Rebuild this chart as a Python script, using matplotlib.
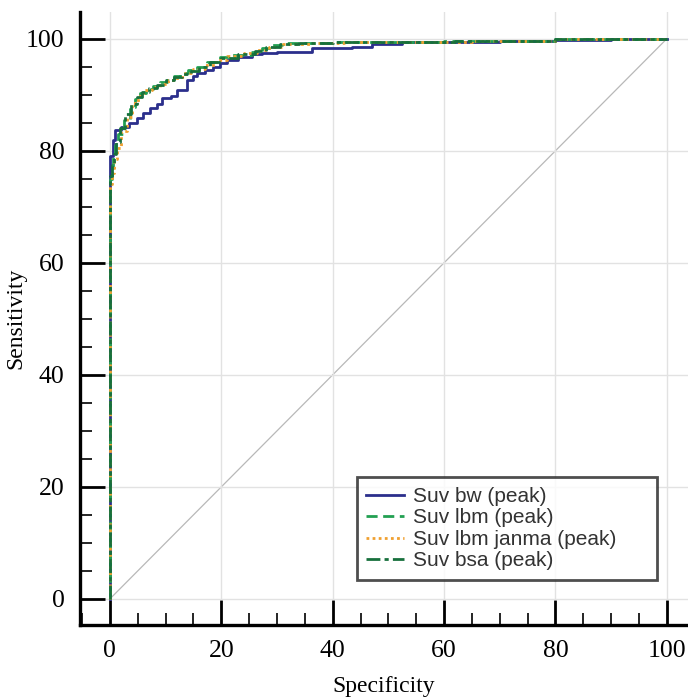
import numpy as np
import matplotlib.pyplot as plt
from matplotlib.ticker import MultipleLocator

# ROC curves (specificity, sensitivity) for the four SUV normalisations
bw_x = [0, 0, 0.5, 1, 2, 3.4, 4.8, 6, 7.2, 8.5, 9.3, 11, 12, 13.8, 15, 15.6, 17, 18.5,
        19.7, 21, 23, 25.5, 27.3, 30, 31.4, 35, 36.3, 40, 43.4, 47, 52.4, 60, 70, 80, 90, 100]
bw_y = [0, 79, 82, 83.8, 84.3, 84.9, 85.8, 86.8, 87.6, 88.4, 89.4, 89.8, 90.9, 92.7, 93.3,
        93.9, 94.5, 95.0, 95.7, 96.2, 96.8, 97.2, 97.4, 97.6, 97.7, 97.7, 98.3, 98.4, 98.6,
        99.0, 99.5, 99.5, 99.6, 99.7, 100, 100]

lbm_x = [0, 0, 0.3, 0.6, 1, 1.5, 2.5, 3.6, 4.5, 5.4, 6.5, 7.8, 9, 10.2, 11.5, 12.6, 14,
         15.6, 17.5, 19.7, 22, 25.5, 27.3, 29, 30.9, 35, 40, 45, 50, 60, 70, 80, 90, 100]
lbm_y = [0, 75, 77, 79, 81, 83, 85.5, 87.9, 89.3, 90.3, 91, 91.5, 92.2, 92.7, 93.4, 93.9,
         94.4, 95, 95.8, 96.8, 97.1, 97.7, 98.3, 98.8, 99.2, 99.3, 99.4, 99.5, 99.5, 99.6,
         99.6, 100, 100, 100]

janma_x = [0, 0, 0.4, 0.8, 1.2, 2, 3, 4, 5, 6, 7.5, 9, 10.5, 12, 13.5, 15, 17, 19, 21,
           24, 26.5, 28.5, 31, 36, 42, 48, 55, 65, 79, 80, 90, 100]
janma_y = [0, 74, 76, 78.5, 80.5, 83.5, 86, 88.5, 89.8, 90.8, 91.3, 92, 92.6, 93.2, 93.8,
           94.6, 95.4, 96.2, 96.9, 97.4, 98, 98.6, 99.1, 99.3, 99.4, 99.5, 99.5, 99.6,
           99.6, 100, 100, 100]

bsa_x = [0, 0, 0.3, 0.7, 1.1, 1.8, 2.8, 3.8, 4.8, 5.8, 7, 8.5, 10, 11.5, 13, 14.5, 16,
         18, 20, 23, 26, 28, 30.5, 34, 40, 46, 52, 62, 72, 80, 90, 100]
bsa_y = [0, 75.5, 77.5, 79.5, 81.5, 84, 86.5, 88.3, 89.6, 90.5, 91.2, 91.8, 92.6, 93.2,
         93.7, 94.3, 95, 95.9, 96.6, 97.3, 97.9, 98.5, 99.1, 99.3, 99.4, 99.5, 99.5, 99.6,
         99.6, 100, 100, 100]

labels = ['Suv bw (peak)', 'Suv lbm (peak)', 'Suv lbm janma (peak)', 'Suv bsa (peak)']

fig = plt.figure(figsize=(6.88, 6.98), dpi=100)
ax = fig.add_axes([0.116, 0.105, 0.884, 0.878])

# reference diagonal
ax.plot([0, 100], [0, 100], color='#b8b8b8', lw=0.9, zorder=1)

ax.plot(bw_x, bw_y, color='#2b2f8c', lw=2.0, ls='-', drawstyle='steps-post', label=labels[0], zorder=3)
ax.plot(lbm_x, lbm_y, color='#22a052', lw=2.0, ls=(0, (4, 2)), drawstyle='steps-post', label=labels[1], zorder=4)
ax.plot(janma_x, janma_y, color='#f0a030', lw=2.0, ls=(0, (1, 1.2)), drawstyle='steps-post', label=labels[2], zorder=5)
ax.plot(bsa_x, bsa_y, color='#17703c', lw=2.0, ls=(0, (5, 1.5, 1.5, 1.5)), drawstyle='steps-post', label=labels[3], zorder=6)

ax.set_xlim(-5.4, 103.8)
ax.set_ylim(-4.6, 104.8)

ax.xaxis.set_major_locator(MultipleLocator(20))
ax.yaxis.set_major_locator(MultipleLocator(20))
ax.xaxis.set_minor_locator(MultipleLocator(5))
ax.yaxis.set_minor_locator(MultipleLocator(5))

ax.grid(True, which='major', color='#e2e2e2', lw=1.0, zorder=0)

for side in ['top', 'right']:
    ax.spines[side].set_visible(False)
for side in ['left', 'bottom']:
    ax.spines[side].set_linewidth(2.4)

ax.tick_params(which='major', direction='in', length=18, width=2.0, pad=11,
               labelsize=18.5, labelfontfamily='Liberation Serif')
ax.tick_params(which='minor', direction='in', length=8.5, width=1.2)
ax.tick_params(axis='y', which='major', pad=11)

ax.set_xlabel('Specificity', fontsize=17, family='Liberation Serif', labelpad=10)
ax.set_ylabel('Sensitivity', fontsize=17, family='Liberation Serif', labelpad=0)

# legend box stretched to a fixed width in the lower right
leg = ax.legend(loc='lower left', bbox_to_anchor=(0.4556, 0.0734, 0.493, 0.171),
                mode='expand', frameon=True, fancybox=False, handlelength=1.8,
                prop={'family': 'Liberation Sans', 'size': 15},
                borderpad=0.45, labelspacing=0.12, handletextpad=0.45,
                borderaxespad=0)
leg.get_frame().set_edgecolor('#222222')
leg.get_frame().set_linewidth(2.0)
for t in leg.get_texts():
    t.set_color('#333333')

fig.savefig('out.png', dpi=100)
